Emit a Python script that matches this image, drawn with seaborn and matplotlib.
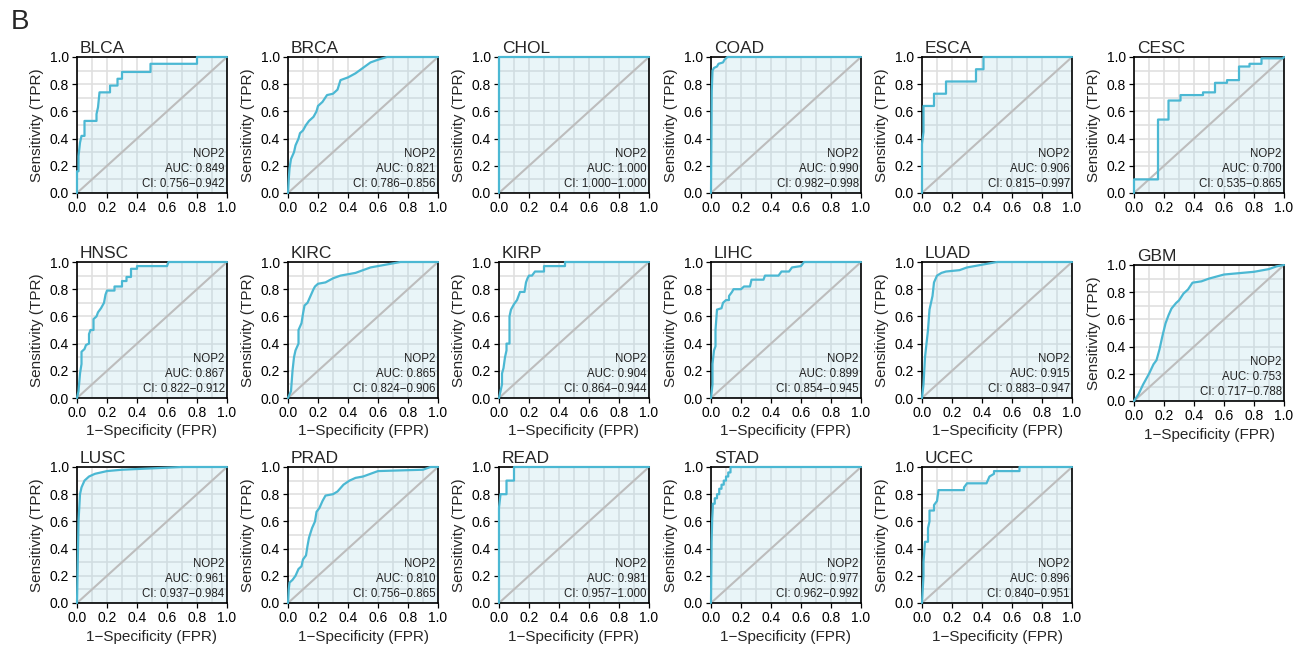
import matplotlib
matplotlib.use("Agg")
import matplotlib.pyplot as plt
import seaborn as sns
import pandas as pd
import numpy as np
from matplotlib.ticker import MultipleLocator

sns.set_theme(style="white")
plt.rcParams['font.family'] = ['Liberation Sans', 'DejaVu Sans']

# ---------------- data ----------------
names = ["BLCA", "BRCA", "CHOL", "COAD", "ESCA", "CESC",
         "HNSC", "KIRC", "KIRP", "LIHC", "LUAD", "GBM",
         "LUSC", "PRAD", "READ", "STAD", "UCEC"]
auc_vals = ["0.849", "0.821", "1.000", "0.990", "0.906", "0.700",
            "0.867", "0.865", "0.904", "0.899", "0.915", "0.753",
            "0.961", "0.810", "0.981", "0.977", "0.896"]
ci_vals = ["0.756\u22120.942", "0.786\u22120.856", "1.000\u22121.000", "0.982\u22120.998",
           "0.815\u22120.997", "0.535\u22120.865", "0.822\u22120.912", "0.824\u22120.906",
           "0.864\u22120.944", "0.854\u22120.945", "0.883\u22120.947", "0.717\u22120.788",
           "0.937\u22120.984", "0.756\u22120.865", "0.957\u22121.000", "0.962\u22120.992",
           "0.840\u22120.951"]
gene = "NOP2"

BLCA_fpr = [0, 0, 0.01, 0.01, 0.02, 0.03, 0.05, 0.05, 0.13, 0.13, 0.14, 0.15, 0.22, 0.22, 0.27, 0.27, 0.30, 0.30, 0.49, 0.49, 0.80, 0.80, 1]
BLCA_tpr = [0, 0.16, 0.16, 0.27, 0.37, 0.42, 0.42, 0.53, 0.53, 0.58, 0.63, 0.74, 0.74, 0.79, 0.79, 0.84, 0.84, 0.89, 0.89, 0.95, 0.95, 1.0, 1]
BRCA_fpr = [0, 0.005, 0.01, 0.02, 0.04, 0.05, 0.07, 0.08, 0.10, 0.12, 0.14, 0.17, 0.19, 0.20, 0.23, 0.26, 0.30, 0.33, 0.35, 0.40, 0.45, 0.50, 0.55, 0.60, 0.66, 1]
BRCA_tpr = [0, 0.10, 0.18, 0.25, 0.30, 0.35, 0.40, 0.44, 0.46, 0.50, 0.53, 0.56, 0.60, 0.64, 0.67, 0.72, 0.73, 0.76, 0.83, 0.85, 0.88, 0.92, 0.96, 0.98, 1.0, 1]
CHOL_fpr = [0, 0, 1]
CHOL_tpr = [0, 1, 1]
COAD_fpr = [0, 0.005, 0.01, 0.02, 0.04, 0.05, 0.08, 0.09, 0.11, 1]
COAD_tpr = [0, 0.75, 0.90, 0.92, 0.93, 0.95, 0.96, 0.98, 1.0, 1]
ESCA_fpr = [0, 0, 0.01, 0.01, 0.08, 0.08, 0.16, 0.16, 0.36, 0.36, 0.41, 0.41, 1]
ESCA_tpr = [0, 0.36, 0.45, 0.64, 0.64, 0.73, 0.73, 0.82, 0.82, 0.91, 0.91, 1.0, 1]
CESC_fpr = [0, 0, 0.16, 0.16, 0.23, 0.23, 0.31, 0.31, 0.46, 0.46, 0.54, 0.54, 0.62, 0.62, 0.70, 0.70, 0.77, 0.77, 0.85, 0.85, 0.99, 1]
CESC_tpr = [0, 0.10, 0.10, 0.54, 0.54, 0.68, 0.68, 0.72, 0.72, 0.74, 0.74, 0.81, 0.81, 0.83, 0.83, 0.93, 0.93, 0.95, 0.95, 0.99, 0.99, 1]
HNSC_fpr = [0, 0.01, 0.02, 0.03, 0.03, 0.05, 0.06, 0.08, 0.08, 0.09, 0.11, 0.11, 0.13, 0.14, 0.16, 0.18, 0.19, 0.20, 0.25, 0.25, 0.30, 0.30, 0.33, 0.33, 0.36, 0.36, 0.40, 0.40, 0.60, 0.61, 1]
HNSC_tpr = [0, 0.05, 0.18, 0.25, 0.34, 0.36, 0.39, 0.40, 0.47, 0.50, 0.50, 0.58, 0.60, 0.63, 0.66, 0.70, 0.76, 0.79, 0.79, 0.82, 0.82, 0.86, 0.86, 0.89, 0.89, 0.95, 0.95, 0.97, 0.97, 1.0, 1]
KIRC_fpr = [0, 0.02, 0.03, 0.04, 0.05, 0.07, 0.07, 0.09, 0.10, 0.11, 0.13, 0.15, 0.17, 0.18, 0.20, 0.25, 0.30, 0.35, 0.45, 0.50, 0.55, 0.65, 0.75, 1]
KIRC_tpr = [0, 0.05, 0.20, 0.30, 0.35, 0.40, 0.50, 0.55, 0.62, 0.68, 0.70, 0.75, 0.80, 0.82, 0.84, 0.85, 0.88, 0.90, 0.92, 0.94, 0.96, 0.98, 1.0, 1]
KIRP_fpr = [0, 0.02, 0.02, 0.03, 0.04, 0.05, 0.05, 0.07, 0.07, 0.08, 0.10, 0.12, 0.13, 0.14, 0.17, 0.18, 0.19, 0.20, 0.22, 0.24, 0.30, 0.30, 0.44, 0.44, 1]
KIRP_tpr = [0, 0.10, 0.18, 0.22, 0.30, 0.35, 0.40, 0.40, 0.60, 0.65, 0.69, 0.72, 0.75, 0.78, 0.78, 0.85, 0.88, 0.90, 0.90, 0.93, 0.93, 0.97, 0.97, 1.0, 1]
LIHC_fpr = [0, 0.01, 0.01, 0.02, 0.03, 0.03, 0.04, 0.07, 0.08, 0.10, 0.12, 0.12, 0.14, 0.15, 0.20, 0.22, 0.26, 0.27, 0.35, 0.36, 0.45, 0.47, 0.52, 0.54, 0.60, 0.62, 1]
LIHC_tpr = [0, 0.10, 0.25, 0.35, 0.38, 0.50, 0.65, 0.66, 0.70, 0.72, 0.72, 0.75, 0.78, 0.80, 0.80, 0.82, 0.82, 0.87, 0.87, 0.90, 0.90, 0.93, 0.93, 0.96, 0.97, 1.0, 1]
LUAD_fpr = [0, 0.01, 0.02, 0.04, 0.05, 0.07, 0.08, 0.10, 0.13, 0.16, 0.25, 0.30, 0.40, 0.50, 1]
LUAD_tpr = [0, 0.10, 0.30, 0.50, 0.65, 0.75, 0.85, 0.90, 0.92, 0.93, 0.94, 0.96, 0.98, 1.0, 1]
GBM_fpr = [0, 0.03, 0.06, 0.10, 0.13, 0.15, 0.17, 0.19, 0.21, 0.23, 0.25, 0.28, 0.30, 0.33, 0.36, 0.39, 0.45, 0.50, 0.60, 0.70, 0.80, 0.90, 0.95, 1]
GBM_tpr = [0, 0.05, 0.12, 0.20, 0.27, 0.30, 0.38, 0.48, 0.57, 0.63, 0.68, 0.72, 0.74, 0.79, 0.82, 0.87, 0.88, 0.90, 0.93, 0.94, 0.95, 0.97, 0.99, 1]
LUSC_fpr = [0, 0.005, 0.01, 0.02, 0.03, 0.05, 0.08, 0.12, 0.20, 0.30, 0.50, 0.70, 1]
LUSC_tpr = [0, 0.30, 0.60, 0.80, 0.85, 0.90, 0.93, 0.95, 0.97, 0.98, 0.99, 1.0, 1]
PRAD_fpr = [0, 0.005, 0.01, 0.03, 0.05, 0.07, 0.09, 0.10, 0.12, 0.13, 0.14, 0.16, 0.18, 0.19, 0.21, 0.23, 0.25, 0.30, 0.33, 0.37, 0.41, 0.45, 0.50, 0.60, 0.90, 0.95, 1]
PRAD_tpr = [0, 0.10, 0.15, 0.17, 0.20, 0.25, 0.27, 0.32, 0.35, 0.42, 0.48, 0.55, 0.60, 0.67, 0.70, 0.75, 0.79, 0.80, 0.82, 0.87, 0.90, 0.92, 0.93, 0.97, 0.98, 1.0, 1]
READ_fpr = [0, 0, 0.01, 0.05, 0.05, 0.10, 0.10, 1]
READ_tpr = [0, 0.70, 0.80, 0.80, 0.90, 0.90, 1.0, 1]
STAD_fpr = [0, 0.004, 0.008, 0.012, 0.012, 0.025, 0.025, 0.04, 0.04, 0.055, 0.055, 0.07, 0.07, 0.085, 0.085, 0.10, 0.10, 0.115, 0.115, 0.13, 0.13, 1]
STAD_tpr = [0, 0.45, 0.62, 0.70, 0.73, 0.73, 0.77, 0.77, 0.80, 0.80, 0.84, 0.84, 0.87, 0.87, 0.90, 0.90, 0.93, 0.93, 0.96, 0.96, 1.0, 1]
UCEC_fpr = [0, 0.01, 0.01, 0.02, 0.04, 0.04, 0.05, 0.05, 0.08, 0.08, 0.10, 0.11, 0.28, 0.28, 0.30, 0.43, 0.45, 0.48, 0.48, 0.65, 0.65, 1]
UCEC_tpr = [0, 0.20, 0.30, 0.45, 0.45, 0.55, 0.60, 0.68, 0.68, 0.72, 0.75, 0.83, 0.83, 0.85, 0.88, 0.88, 0.93, 0.95, 0.97, 0.97, 1.0, 1]

curves = {
    "BLCA": (BLCA_fpr, BLCA_tpr), "BRCA": (BRCA_fpr, BRCA_tpr), "CHOL": (CHOL_fpr, CHOL_tpr),
    "COAD": (COAD_fpr, COAD_tpr), "ESCA": (ESCA_fpr, ESCA_tpr), "CESC": (CESC_fpr, CESC_tpr),
    "HNSC": (HNSC_fpr, HNSC_tpr), "KIRC": (KIRC_fpr, KIRC_tpr), "KIRP": (KIRP_fpr, KIRP_tpr),
    "LIHC": (LIHC_fpr, LIHC_tpr), "LUAD": (LUAD_fpr, LUAD_tpr), "GBM": (GBM_fpr, GBM_tpr),
    "LUSC": (LUSC_fpr, LUSC_tpr), "PRAD": (PRAD_fpr, PRAD_tpr), "READ": (READ_fpr, READ_tpr),
    "STAD": (STAD_fpr, STAD_tpr), "UCEC": (UCEC_fpr, UCEC_tpr),
}
ticks = [0.0, 0.2, 0.4, 0.6, 0.8, 1.0]
tick_labels = ["0.0", "0.2", "0.4", "0.6", "0.8", "1.0"]

# ---------------- layout ----------------
W, H = 1306, 648
fig = plt.figure(figsize=(W / 100, H / 100), dpi=100)
fig.patch.set_facecolor("white")

col_left = [77, 288, 499, 711, 922, 1134]
row_top = [57, 262, 467]
aw, ah = 150, 136

line_c = "#4BB8D3"
fill_c = "#A8D8E6"
grid_c = "#E0E0E0"

def panel_rect(i):
    r, c = divmod(i, 6)
    left, top = col_left[c], row_top[r]
    if names[i] == "GBM":
        top = 265
    return [left / W, 1 - (top + ah) / H, aw / W, ah / H]

for i, nm in enumerate(names):
    ax = fig.add_axes(panel_rect(i))
    fpr, tpr = curves[nm]
    df = pd.DataFrame({"fpr": fpr, "tpr": tpr})
    ax.set_facecolor("white")
    ax.xaxis.set_minor_locator(MultipleLocator(0.1))
    ax.yaxis.set_minor_locator(MultipleLocator(0.1))
    ax.grid(True, which="both", color=grid_c, lw=1.2, zorder=0)
    ax.set_axisbelow(True)
    ax.fill_between(df["fpr"], df["tpr"], 0, color=fill_c, alpha=0.25, zorder=1, lw=0)
    ax.plot([0, 1], [0, 1], color="#BDBDBD", lw=1.5, zorder=2)
    sns.lineplot(data=df, x="fpr", y="tpr", sort=False, estimator=None,
                 color=line_c, lw=1.6, ax=ax, zorder=3, clip_on=False)
    ax.set_xlim(0, 1)
    ax.set_ylim(0, 1)
    ax.set_xticks(ticks)
    ax.set_xticklabels(tick_labels)
    ax.set_yticks(ticks)
    ax.set_yticklabels(tick_labels)
    ax.tick_params(which="major", direction="out", length=3.5, width=0.9, labelsize=10,
                   pad=2.5, color="black", labelcolor="black", bottom=True, left=True)
    ax.tick_params(which="minor", length=0)
    for s in ax.spines.values():
        s.set_color("black")
        s.set_linewidth(1.2)
        s.set_visible(True)
    ax.set_ylabel("Sensitivity (TPR)", fontsize=11, labelpad=4)
    if i >= 6:
        ax.set_xlabel("1\u2212Specificity (FPR)", fontsize=11, labelpad=3)
    else:
        ax.set_xlabel("")
    ax.set_title(nm, loc="left", fontsize=12.5, pad=3, x=0.02)
    ax.text(0.985, 0.29, gene, transform=ax.transAxes, ha="right", va="center", fontsize=8.3, color="#222222")
    ax.text(0.985, 0.18, "AUC: " + auc_vals[i], transform=ax.transAxes, ha="right", va="center", fontsize=8.3, color="#222222")
    ax.text(0.985, 0.068, "CI: " + ci_vals[i], transform=ax.transAxes, ha="right", va="center", fontsize=8.3, color="#222222")

fig.text(11 / W, 1 - 22 / H, "B", fontsize=20, ha="left", va="center")
fig.savefig("out.png", dpi=100, facecolor="white")
